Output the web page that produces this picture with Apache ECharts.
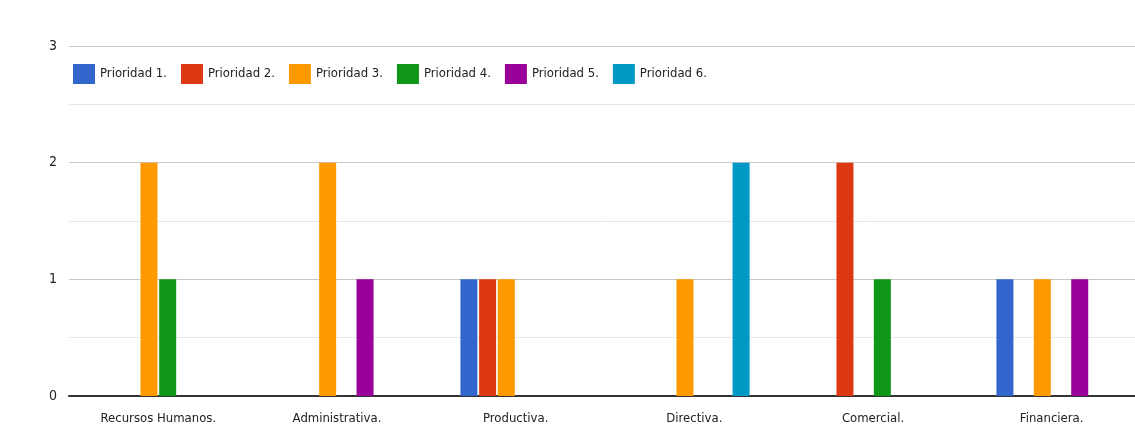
<!DOCTYPE html>
<html>
<head>
<meta charset="utf-8">
<script src="https://cdn.jsdelivr.net/npm/echarts@6/dist/echarts.min.js"></script>
<style>
  html, body { margin: 0; padding: 0; background: #fff; }
  #chart { width: 1135px; height: 437px; }
</style>
</head>
<body>
<div id="chart"></div>
<script>
  const areas = ['Recursos Humanos.', 'Administrativa.', 'Productiva.', 'Directiva.', 'Comercial.', 'Financiera.']
  const prioridades = ['Prioridad 1.', 'Prioridad 2.', 'Prioridad 3.', 'Prioridad 4.', 'Prioridad 5.', 'Prioridad 6.']
  const colores = ['#3366cc', '#dc3912', '#ff9900', '#109618', '#990099', '#0099c6']
  // one array per priority, values per area
  const p1 = [0, 0, 1, 0, 0, 1]
  const p2 = [0, 0, 1, 0, 2, 0]
  const p3 = [2, 2, 1, 1, 0, 1]
  const p4 = [1, 0, 0, 0, 1, 0]
  const p5 = [0, 1, 0, 0, 0, 1]
  const p6 = [0, 0, 0, 2, 0, 0]
  const valores = [p1, p2, p3, p4, p5, p6]

  const fuente = '"DejaVu Sans Condensed", "Liberation Sans Narrow", "Arial Narrow", sans-serif'
  const chart = echarts.init(document.getElementById('chart'))

  chart.setOption({
    animation: false,
    textStyle: { fontFamily: fuente },
    legend: {
      left: 68,
      top: 59,
      icon: 'rect',
      itemWidth: 22,
      itemHeight: 20,
      itemGap: 14,
      textStyle: { fontFamily: fuente, fontSize: 13, color: '#222' },
      data: prioridades
    },
    grid: {
      left: 69,
      width: 1072,
      top: 46,
      bottom: 41,
      outerBoundsMode: 'none'
    },
    xAxis: {
      type: 'category',
      data: areas,
      axisTick: { show: false },
      axisLine: { lineStyle: { color: '#333', width: 2 } },
      axisLabel: { fontFamily: fuente, fontSize: 13, color: '#222', margin: 16 }
    },
    yAxis: {
      type: 'value',
      min: 0,
      max: 3,
      interval: 1,
      axisLine: { show: false },
      axisTick: { show: false },
      axisLabel: { fontFamily: fuente, fontSize: 14, color: '#222', margin: 12 },
      splitLine: { lineStyle: { color: '#c8c8c8', width: 1 } },
      minorTick: { show: false, splitNumber: 2 },
      minorSplitLine: { show: true, lineStyle: { color: '#e6e6e6', width: 1 } }
    },
    series: prioridades.map((nombre, i) => ({
      name: nombre,
      type: 'bar',
      data: valores[i],
      barWidth: 17,
      barGap: '10%',
      itemStyle: { color: colores[i] }
    }))
  })
</script>
</body>
</html>
